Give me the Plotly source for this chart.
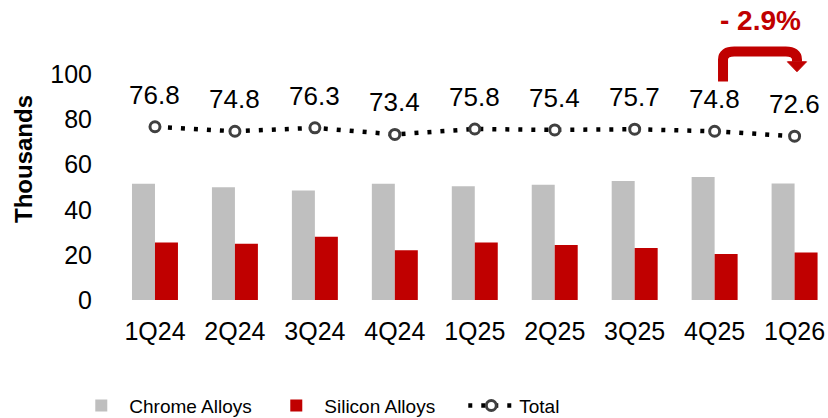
import plotly.graph_objects as go

categories = ["1Q24", "2Q24", "3Q24", "4Q24", "1Q25", "2Q25", "3Q25", "4Q25", "1Q26"]
chrome = [51.5, 50.0, 48.5, 51.5, 50.4, 51.1, 52.8, 54.5, 51.6]
silicon = [25.5, 24.9, 28.0, 22.0, 25.5, 24.4, 23.1, 20.4, 21.1]
total = [76.8, 74.8, 76.3, 73.4, 75.8, 75.4, 75.7, 74.8, 72.6]
yticks = [0, 20, 40, 60, 80, 100]
change_label = "- 2.9%"

GREY = "#BFBFBF"
RED = "#C00000"
FONT = "Liberation Sans, Arial, sans-serif"

xs = list(range(len(categories)))

fig = go.Figure()
fig.add_trace(go.Bar(x=xs, y=chrome, name="Chrome Alloys", marker=dict(color=GREY, line=dict(width=0))))
fig.add_trace(go.Bar(x=xs, y=silicon, name="Silicon Alloys", marker=dict(color=RED, line=dict(width=0))))
fig.add_trace(go.Scatter(
    x=xs, y=total, name="Total", mode="lines+markers",
    line=dict(color="black", width=4.5, dash="4px,9px"),
    marker=dict(symbol="circle", size=10, color="white", line=dict(color="#404040", width=3)),
))

for i, v in enumerate(total):
    fig.add_annotation(x=i, y=v, text=f"{v:.1f}", showarrow=False, yshift=32,
                       font=dict(family=FONT, size=26, color="black"))

# change bracket arrow from 4Q25 to 1Q26
i0, i1 = 7, 8
x0 = i0 + 0.105
x1 = i1 + 0.03
y_bot = total[i0] + 22
y_top = max(total[i0], total[i1]) + 35.3
y_head = y_top - 4.5
y_tip = y_top - 8.9
path = (f"M {x0},{y_bot} L {x0},{y_top-3.5} Q {x0},{y_top} {x0+0.14},{y_top} "
        f"L {x1-0.14},{y_top} Q {x1},{y_top} {x1},{y_top-3.5} L {x1},{y_head}")
fig.add_shape(type="path", path=path, xref="x", yref="y", line=dict(color=RED, width=10))
fig.add_shape(type="path", xref="x", yref="y",
              path=f"M {x1-0.12},{y_head} L {x1+0.12},{y_head} L {x1},{y_tip} Z",
              fillcolor=RED, line=dict(color=RED, width=1))
fig.add_annotation(x=(x0 + x1) / 2, y=y_top + 14, text=f"<b>{change_label}</b>", showarrow=False,
                   font=dict(family=FONT, size=28, color=RED))

fig.update_layout(
    width=828, height=418,
    margin=dict(l=115, r=0, t=18, b=118, autoexpand=False),
    plot_bgcolor="white", paper_bgcolor="white",
    barmode="group", bargap=0.425, bargroupgap=0,
    font=dict(family=FONT, size=25, color="black"),
    showlegend=True,
    legend=dict(orientation="h", xref="container", yref="container", x=0.0885, y=0.075,
                xanchor="left", yanchor="top", font=dict(family=FONT, size=19),
                itemwidth=46, entrywidth=134, traceorder="normal"),
    xaxis=dict(range=[-0.5, 8.418], tickmode="array", tickvals=xs, ticktext=categories,
               showgrid=False, zeroline=False, showline=False, ticks="", automargin=False,
               ticklabelstandoff=14, tickfont=dict(size=25)),
    yaxis=dict(range=[0, 125], tickmode="array", tickvals=yticks, showgrid=False,
               zeroline=False, showline=False, ticks="", ticklabelstandoff=22, automargin=False,
               tickfont=dict(size=25),
               title=dict(text="<b>Thousands</b>", font=dict(size=24), standoff=10)),
)

fig.write_html("out.html", config={"displayModeBar": False},
               post_script="document.body.style.margin='0';document.body.style.overflow='hidden';")
